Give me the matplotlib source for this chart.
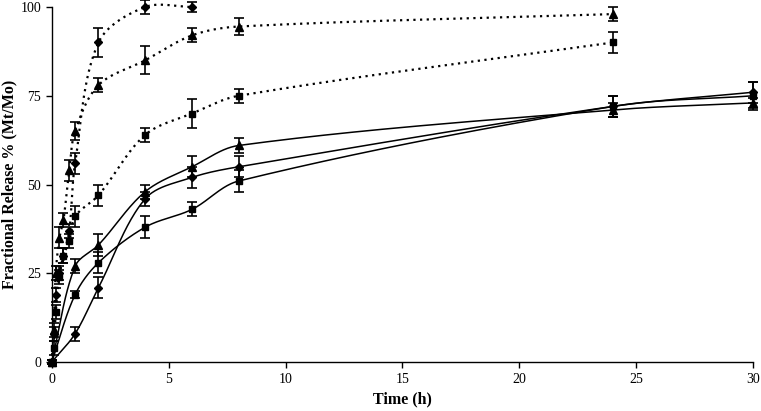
import numpy as np
import matplotlib
matplotlib.use("Agg")
import matplotlib.pyplot as plt

plt.rcParams['font.family'] = ['Liberation Serif', 'DejaVu Serif']

# --- data ---
t_fast = [0, 0.083, 0.17, 0.33, 0.5, 0.75, 1, 2, 4, 6]
fast_diamond = [0, 8, 19, 25, 30, 37, 56, 90, 100, 100]
fast_diamond_err = [0.5, 2, 2, 2, 2, 2, 3, 4, 2, 1.5]

t_dot = [0, 0.083, 0.17, 0.33, 0.5, 0.75, 1, 2, 4, 6, 8, 24]
dot_triangle = [0, 9, 25, 35, 40, 54, 65, 78, 85, 92, 94.5, 98]
dot_triangle_err = [0.5, 2, 2, 3, 2, 3, 2.5, 2, 4, 2, 2.5, 2]
dot_square = [0, 4, 14, 24, 30, 34, 41, 47, 64, 70, 75, 90]
dot_square_err = [0.5, 2, 2, 2, 2, 2, 3, 3, 2, 4, 2, 3]

t_solid = [0, 1, 2, 4, 6, 8, 24, 30]
solid_diamond = [0, 8, 21, 46, 52, 55, 72, 76]
solid_diamond_err = [0.5, 2, 3, 2, 3, 3, 3, 3]
solid_triangle = [0, 27, 33, 48, 55, 61, 71, 73]
solid_triangle_err = [0.5, 2, 3, 2, 3, 2, 2, 1.5]
solid_square = [0, 19, 28, 38, 43, 51, 72, 75]
solid_square_err = [0.5, 1, 3, 3, 2, 3, 3, 4]

x_ticks = [0, 5, 10, 15, 20, 25, 30]
y_ticks = [0, 25, 50, 75, 100]

fig = plt.figure(figsize=(7.61, 4.11), dpi=100)
ax = fig.add_axes([0.068, 0.119, 0.9215, 0.864])
ax.set_xlim(0, 30)
ax.set_ylim(0, 100)


def smooth(x, y, n=40, tension=1.0 / 3.0):
    """Smoothed line through the data points (non-uniform Catmull-Rom style),
    computed in screen space so the curve shape matches the drawn chart."""
    pts = ax.transData.transform(np.column_stack([x, y]))
    P = np.vstack([pts[0], pts, pts[-1]])
    out = []
    for i in range(1, len(P) - 2):
        p0, p1, p2, p3 = P[i - 1], P[i], P[i + 1], P[i + 2]
        L01 = np.linalg.norm(p1 - p0)
        L12 = np.linalg.norm(p2 - p1)
        L23 = np.linalg.norm(p3 - p2)
        f1 = L12 / (L01 + L12) if (L01 + L12) > 0 else 0
        f2 = L12 / (L12 + L23) if (L12 + L23) > 0 else 0
        c1 = p1 + (p2 - p0) * f1 * tension
        c2 = p2 - (p3 - p1) * f2 * tension
        s = np.linspace(0, 1, n)[:, None]
        seg = ((1 - s) ** 3) * p1 + 3 * ((1 - s) ** 2) * s * c1 + 3 * (1 - s) * s ** 2 * c2 + s ** 3 * p2
        out.append(seg)
    out = np.vstack(out)
    d = ax.transData.inverted().transform(out)
    return d[:, 0], d[:, 1]


dotted = (0, (1, 2.0))
series = [
    (t_fast, fast_diamond, fast_diamond_err, 'D', 4.3, dotted, 1.6),
    (t_dot, dot_triangle, dot_triangle_err, '^', 5.5, dotted, 1.6),
    (t_dot, dot_square, dot_square_err, 's', 4.3, dotted, 1.6),
    (t_solid, solid_diamond, solid_diamond_err, 'D', 4.3, '-', 1.1),
    (t_solid, solid_triangle, solid_triangle_err, '^', 5.5, '-', 1.1),
    (t_solid, solid_square, solid_square_err, 's', 4.3, '-', 1.1),
]

for t, v, e, m, ms, ls, lw in series:
    sx, sy = smooth(t, v)
    ax.plot(sx, sy, color='black', linestyle=ls, linewidth=lw, clip_on=False, zorder=2)
    ax.errorbar(t, v, yerr=e, fmt=m, color='black', markersize=ms,
                ecolor='black', elinewidth=1.2, capsize=3.8, capthick=1.2,
                linestyle='none', clip_on=False, zorder=3)

ax.set_xticks(x_ticks)
ax.set_yticks(y_ticks)
ax.spines['top'].set_visible(False)
ax.spines['right'].set_visible(False)
for sp in ('left', 'bottom'):
    ax.spines[sp].set_linewidth(1.0)
ax.tick_params(direction='out', length=4, width=1.0, labelsize=10)
ax.set_xlabel('Time (h)', fontsize=11.5, fontweight='bold', labelpad=4)
ax.set_ylabel('Fractional Release % (Mt/Mo)', fontsize=11.5, fontweight='bold')
ax.yaxis.set_label_coords(-0.049, 0.5)

fig.savefig('out.png', dpi=100)
